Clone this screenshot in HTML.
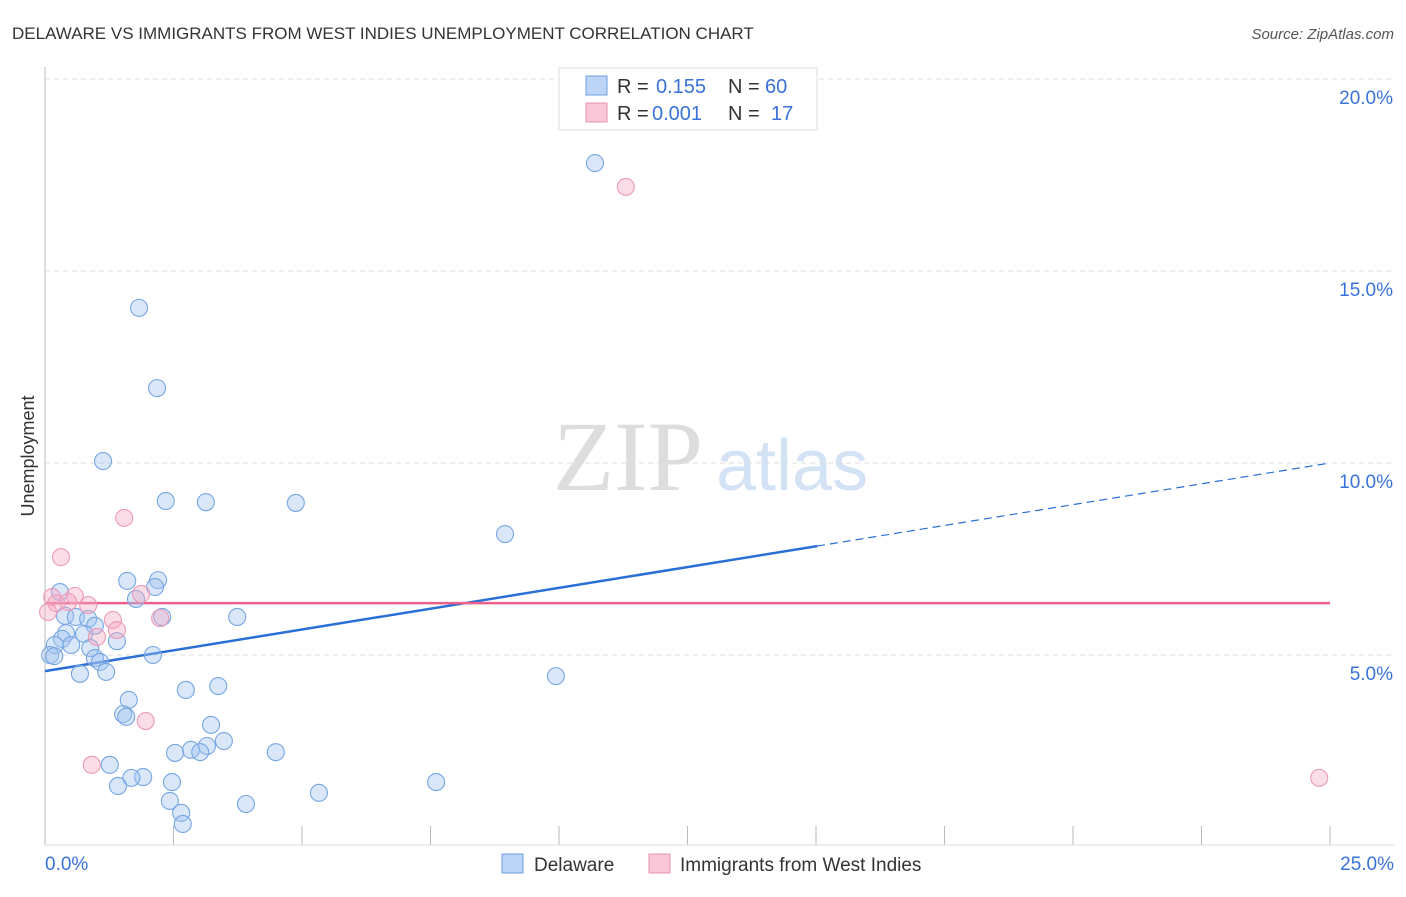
<!DOCTYPE html>
<html><head><meta charset="utf-8"><style>
body{margin:0;background:#fff;font-family:"Liberation Sans",sans-serif;}
svg text{font-family:"Liberation Sans",sans-serif;}
svg text.serif{font-family:"Liberation Serif",serif;}
</style></head><body>
<svg id="chart" width="1406" height="892" xmlns="http://www.w3.org/2000/svg">
<text x="12" y="39" font-size="17" fill="#333">DELAWARE VS IMMIGRANTS FROM WEST INDIES UNEMPLOYMENT CORRELATION CHART</text>
<text x="1394" y="39" font-size="15" fill="#555" text-anchor="end" font-style="italic">Source: ZipAtlas.com</text>
<text transform="translate(34,456) rotate(-90)" font-size="18" fill="#333" text-anchor="middle">Unemployment</text>
<g><text class="serif" x="553" y="490" font-size="100" fill="#ddd">ZIP</text><text x="716" y="490" font-size="72" fill="#d3e2f5">atlas</text></g>
<g id="grid"></g><g id="ticks"></g><g id="trends"></g><g id="pts"></g>
<g>
<rect x="559" y="68" width="258" height="62" fill="#fff" stroke="#ddd"/>
<rect x="586" y="76" width="21" height="19" fill="#bcd4f5" stroke="#6a9fe0"/>
<text x="617" y="93" font-size="20" fill="#333">R =</text><text x="656" y="93" font-size="20" fill="#3a72d8">0.155</text>
<text x="728" y="93" font-size="20" fill="#333">N =</text><text x="765" y="93" font-size="20" fill="#3a72d8">60</text>
<rect x="586" y="103" width="21" height="19" fill="#f9c8d8" stroke="#e890b0"/>
<text x="617" y="120" font-size="20" fill="#333">R =</text><text x="652" y="120" font-size="20" fill="#3a72d8">0.001</text>
<text x="728" y="120" font-size="20" fill="#333">N =</text><text x="771" y="120" font-size="20" fill="#3a72d8">17</text>
</g>
<g>
<rect x="502" y="854" width="21" height="19" fill="#bcd4f5" stroke="#6a9fe0"/>
<text x="534" y="871" font-size="19" fill="#333">Delaware</text>
<rect x="649" y="854" width="21" height="19" fill="#f9c8d8" stroke="#e890b0"/>
<text x="680" y="871" font-size="19" fill="#333">Immigrants from West Indies</text>
</g>
</svg>
<script>
const xTicks=[0,25];
const yTicks=[5,10,15,20];
const blueX=[10.70,1.83,2.18,1.13,2.35,3.13,4.88,8.95,1.60,2.20,2.14,0.29,1.77,3.74,2.28,0.39,0.60,0.84,0.97,0.76,0.41,0.33,1.40,0.51,0.19,0.88,2.10,0.10,0.18,0.97,1.07,1.19,0.68,9.94,3.37,2.74,1.63,1.52,1.58,3.23,3.48,3.15,2.84,2.53,3.02,4.49,1.26,1.91,1.68,2.47,7.61,1.42,5.33,2.43,3.91,2.65,2.68];
const blueY=[17.81,14.04,11.95,10.05,9.01,8.98,8.96,8.15,6.93,6.95,6.77,6.64,6.46,5.99,5.99,6.02,5.99,5.94,5.76,5.55,5.57,5.42,5.36,5.26,5.26,5.18,5.00,5.00,4.97,4.92,4.82,4.56,4.51,4.45,4.19,4.09,3.83,3.46,3.39,3.18,2.76,2.63,2.53,2.45,2.47,2.47,2.14,1.82,1.80,1.69,1.69,1.59,1.41,1.20,1.12,0.89,0.60];
const pinkX=[11.30,1.54,0.31,0.14,0.58,0.22,0.45,0.84,1.87,1.32,2.24,1.40,1.01,1.96,0.91,24.79,0.06];
const pinkY=[17.19,8.57,7.55,6.51,6.54,6.35,6.38,6.30,6.59,5.91,5.96,5.65,5.47,3.28,2.14,1.80,6.12];
const blueTrend=[4.58,10.0];
const pinkTrend=[6.35,6.35];
const X=v=>45+v*51.4, Y=v=>847-v*38.4;
const NS='http://www.w3.org/2000/svg';
function mk(t,a,p){const e=document.createElementNS(NS,t);for(const k in a)e.setAttribute(k,a[k]);p.appendChild(e);return e;}
const grid=document.getElementById('grid'),ticks=document.getElementById('ticks');
mk('line',{x1:45,y1:67,x2:45,y2:845,stroke:'#bbb'},grid);
yTicks.forEach(t=>{const l=mk('line',{x1:45,x2:1394,y1:Y(t),y2:Y(t),stroke:'#ddd','stroke-dasharray':'5,4'},grid);


const tx=mk('text',{x:1393,y:Y(t)+25,'font-size':19,fill:'#3a72d8','text-anchor':'end'},ticks);tx.textContent=t.toFixed(1)+'%';

});
for(let i=0;i<=10;i++){const x=X(i*2.5);const l=mk('line',{x1:x,x2:x,y1:826,y2:845,stroke:'#bbb'},ticks);

}
mk('line',{x1:45,x2:1394,y1:845,y2:845,stroke:'#ddd'},ticks);
xTicks.forEach((t,i)=>{const tx=mk('text',{x:i?1394:45,y:870,'font-size':19,fill:'#3a72d8','text-anchor':i?'end':'start'},ticks);tx.textContent=t.toFixed(1)+'%';

});
const pts=document.getElementById('pts');
blueX.forEach((v,i)=>{const c=mk('circle',{cx:X(v),cy:Y(blueY[i]),r:8.5,fill:'rgba(160,196,240,0.4)',stroke:'#76a6e2','stroke-width':1.1},pts);

});
pinkX.forEach((v,i)=>{const c=mk('circle',{cx:X(v),cy:Y(pinkY[i]),r:8.5,fill:'rgba(245,170,195,0.4)',stroke:'#eb9ab8','stroke-width':1.1},pts);

});
const tr=document.getElementById('trends');
const bAt=v=>blueTrend[0]+(blueTrend[1]-blueTrend[0])*v/25;
let l=mk('line',{x1:X(0),y1:Y(bAt(0)),x2:X(15.02),y2:Y(bAt(15.02)),stroke:'#2a6fd6','stroke-width':2.5},tr);


l=mk('line',{x1:X(15.02),y1:Y(bAt(15.02)),x2:X(25),y2:Y(bAt(25)),stroke:'#2a6fd6','stroke-width':1.2,'stroke-dasharray':'8,5'},tr);


l=mk('line',{x1:X(0),y1:Y(pinkTrend[0]),x2:X(25),y2:Y(pinkTrend[1]),stroke:'#e8628c','stroke-width':2.5},tr);


</script>
</body></html>
